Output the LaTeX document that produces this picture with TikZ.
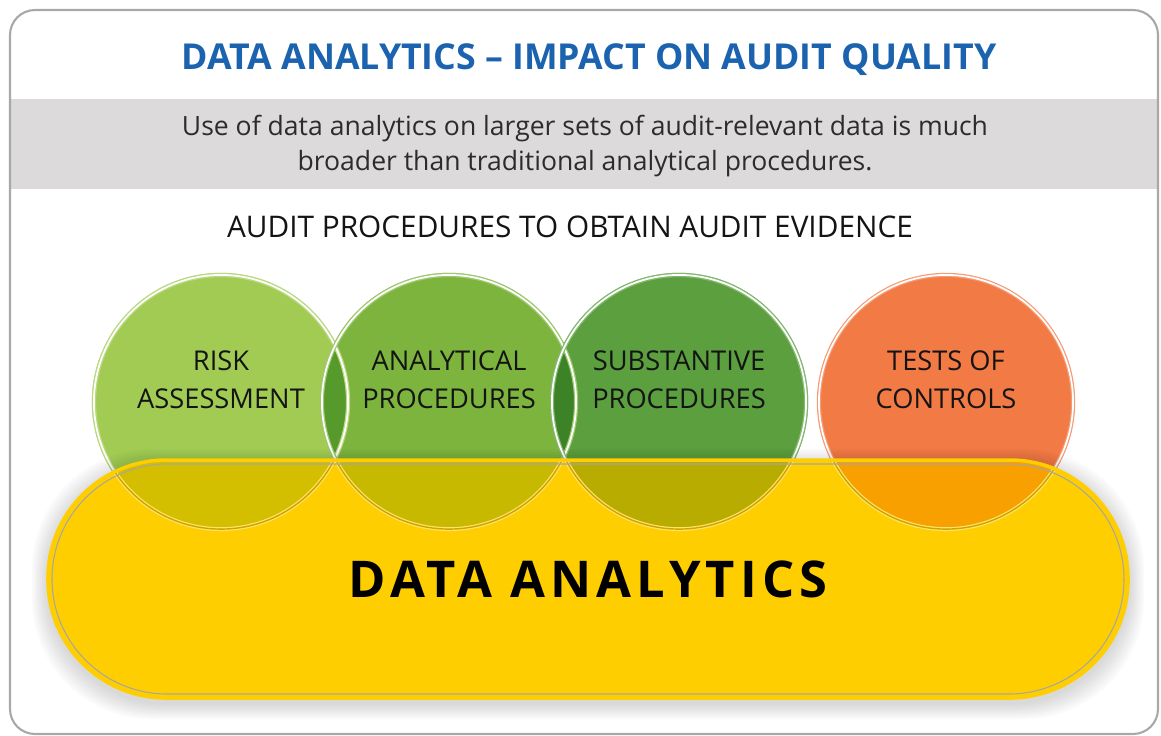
\documentclass[tikz,border=0pt]{standalone}
\usepackage{fontspec}
\setmainfont{Open Sans}
\usetikzlibrary{positioning}
\definecolor{titleblue}{HTML}{1B63AE}
\definecolor{bandgray}{HTML}{DCDADA}
\definecolor{framegray}{HTML}{A8A8A8}
\definecolor{riskgreen}{HTML}{A2CB54}
\definecolor{anagreen}{HTML}{7DB43E}
\definecolor{subgreen}{HTML}{5B9F3E}
\definecolor{testorange}{HTML}{F27A45}
\definecolor{lensone}{HTML}{569A2B}
\definecolor{lenstwo}{HTML}{3C8226}
\definecolor{riskolive}{HTML}{D4BE00}
\definecolor{anaolive}{HTML}{C7B800}
\definecolor{subolive}{HTML}{B8AC00}
\definecolor{testamber}{HTML}{F8A000}
\definecolor{datayellow}{HTML}{FFCE00}
\definecolor{inktext}{HTML}{141414}
\begin{document}
\begin{tikzpicture}[x=0.01cm,y=-0.01cm,
        stage node/.style = {circle, fill=#1, draw=#1!75!white, double=white, double distance=0.5pt,
                line width=0.35pt, inner sep=0pt, minimum size=2.54cm},
        stage text/.style = {align=center, text=inktext, font=\fontsize{7.75}{10.8}\selectfont},
        pill node/.style = {rectangle, rounded corners=1.18cm, minimum width=10.8cm, minimum height=2.38cm, inner sep=0pt}]

        % frame and header
        \useasboundingbox (0,0) rectangle (1161,735);
        \fill[bandgray] (11,99) rectangle (1157,189);
        \draw[framegray, line width=0.6pt, rounded corners=0.25cm] (10,10) rectangle (1158,734);
        \node[text=titleblue, font=\fontsize{10.15}{12}\bfseries] (title) at (589,60) {DATA ANALYTICS -- IMPACT ON AUDIT QUALITY};
        \node[align=center, text=inktext!90!white, font=\fontsize{7.55}{10.2}\selectfont] (intro) at (585,146)
                {Use of data analytics on larger sets of audit-relevant data is much\\broader than traditional analytical procedures.};
        \node[text=inktext, font=\fontsize{8.47}{10}\selectfont] (heading) at (570,227) {AUDIT PROCEDURES TO OBTAIN AUDIT EVIDENCE};

        % base of the data analytics band
        \coordinate (dc) at (588,579);
        \node[pill node, fill=datayellow] (base) at (dc) {};

        % procedures
        \node[stage node=riskgreen] (1) at (221,402) {};
        \node[stage node=anagreen] (2) at (449,402) {};
        \node[stage node=subgreen] (3) at (679,402) {};
        \node[stage node=testorange] (4) at (946,402) {};
        \begin{scope}
                \clip (1.center) circle (1.27cm);
                \fill[lensone] (2.center) circle (1.27cm);
        \end{scope}
        \begin{scope}
                \clip (2.center) circle (1.27cm);
                \fill[lenstwo] (3.center) circle (1.27cm);
        \end{scope}
        \foreach \n/\c in {1/riskgreen,2/anagreen,3/subgreen}
                \draw[\c!75!white, double=white, double distance=0.5pt, line width=0.35pt] (\n.center) circle (1.27cm);

        % soft shadow of the band
        \foreach \d in {2,4,...,16}
                \fill[black, opacity=0.02, rounded corners=1.2cm] ([shift={(-540-\d,-119-\d+5)}]dc) rectangle ([shift={(540+\d,119+\d+5)}]dc);

        % the band over the circles
        \node[pill node, fill=datayellow] (band) at (dc) {};
        \begin{scope}
                \clip[rounded corners=1.18cm] ([shift={(-540,-119)}]dc) rectangle ([shift={(540,119)}]dc);
                \foreach \n/\c in {1/riskolive,2/anaolive,3/subolive,4/testamber}
                        \fill[\c] (\n.center) circle (1.27cm);
                \foreach \n in {1,...,4}
                        \draw[datayellow!60!white, double=datayellow!80!black, double distance=0.4pt, line width=0.35pt] (\n.center) circle (1.27cm);
        \end{scope}
        \draw[datayellow, line width=1pt, rounded corners=1.18cm] ([shift={(-540,-119)}]dc) rectangle ([shift={(540,119)}]dc);
        \draw[black!35, line width=0.3pt, rounded corners=1.15cm] ([shift={(-536,-115)}]dc) rectangle ([shift={(536,115)}]dc);

        % texts
        \node[stage text] (t1) at ([yshift=0.22cm]1.center) {RISK\\ASSESSMENT};
        \node[stage text] (t2) at ([yshift=0.22cm]2.center) {ANALYTICAL\\PROCEDURES};
        \node[stage text] (t3) at ([yshift=0.22cm]3.center) {SUBSTANTIVE\\PROCEDURES};
        \node[stage text] (t4) at ([yshift=0.22cm]4.center) {TESTS OF\\CONTROLS};
        \node[text=black, font=\fontsize{14.4}{16}\bfseries\addfontfeature{LetterSpace=10}] (data) at (dc) {DATA ANALYTICS};
\end{tikzpicture}
\end{document}
